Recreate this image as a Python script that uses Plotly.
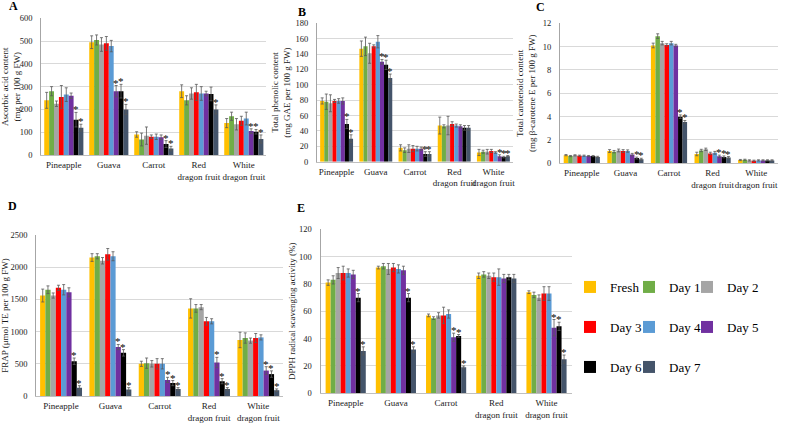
import plotly.graph_objects as go

categories = ["Pineapple", "Guava", "Carrot", "Red<br>dragon fruit", "White<br>dragon fruit"]
days = ["Fresh", "Day 1", "Day 2", "Day 3", "Day 4", "Day 5", "Day 6", "Day 7"]
colors = ["#FFC000", "#70AD47", "#A5A5A5", "#FF0000", "#5B9BD5", "#7030A0", "#000000", "#44546A"]

# Rows = days (Fresh..Day 7), columns = categories
ascorbic_mean = [
    [240, 495, 90, 280, 140],
    [280, 505, 68, 240, 170],
    [225, 485, 85, 270, 135],
    [255, 490, 80, 275, 150],
    [265, 478, 80, 270, 160],
    [260, 280, 78, 270, 105],
    [155, 280, 48, 268, 102],
    [120, 200, 28, 200, 70],
]
ascorbic_err = [
    [35, 28, 12, 28, 20],
    [20, 22, 28, 20, 18],
    [12, 30, 38, 25, 25],
    [50, 30, 8, 35, 20],
    [30, 25, 12, 30, 28],
    [12, 25, 10, 10, 10],
    [32, 30, 15, 30, 10],
    [15, 22, 10, 20, 18],
]
ascorbic_sig = [
    [0, 0, 0, 0, 0], [0, 0, 0, 0, 0], [0, 0, 0, 0, 0], [0, 0, 0, 0, 0],
    [0, 0, 0, 0, 0], [0, 1, 0, 0, 1], [1, 1, 1, 0, 1], [1, 1, 1, 1, 1],
]

phenolic_mean = [
    [79, 147, 18, 47, 12],
    [78, 150, 15, 46, 13],
    [76, 141, 17, 47, 13],
    [79, 150, 17, 49, 14],
    [79, 156, 17, 47, 12],
    [79, 130, 17, 46, 7],
    [49, 126, 10, 44, 6],
    [30, 109, 10, 44, 7],
]
phenolic_err = [
    [4, 10, 4, 11, 4],
    [10, 12, 3, 2, 2],
    [11, 13, 5, 12, 3],
    [2, 2, 4, 3, 2],
    [3, 8, 3, 2, 1],
    [4, 3, 2, 2, 2],
    [6, 6, 3, 3, 1],
    [5, 5, 3, 3, 1],
]
phenolic_sig = [
    [0, 0, 0, 0, 0], [0, 0, 0, 0, 0], [0, 0, 0, 0, 0], [0, 0, 0, 0, 0],
    [0, 0, 0, 0, 0], [0, 1, 0, 0, 1], [1, 1, 1, 0, 1], [1, 1, 1, 0, 1],
]

carotenoid_mean = [
    [0.70, 1.05, 10.10, 0.80, 0.28],
    [0.62, 1.00, 10.90, 1.10, 0.30],
    [0.68, 1.10, 10.30, 1.20, 0.25],
    [0.65, 1.05, 10.15, 0.85, 0.22],
    [0.65, 1.05, 10.30, 0.90, 0.25],
    [0.62, 0.75, 10.10, 0.60, 0.25],
    [0.62, 0.45, 4.00, 0.55, 0.25],
    [0.55, 0.35, 3.55, 0.50, 0.25],
]
carotenoid_err = [
    [0.05, 0.12, 0.20, 0.15, 0.05],
    [0.05, 0.10, 0.20, 0.10, 0.05],
    [0.05, 0.12, 0.15, 0.10, 0.05],
    [0.05, 0.12, 0.10, 0.10, 0.05],
    [0.05, 0.10, 0.15, 0.12, 0.05],
    [0.05, 0.10, 0.10, 0.10, 0.05],
    [0.05, 0.08, 0.15, 0.08, 0.05],
    [0.05, 0.08, 0.12, 0.08, 0.05],
]
carotenoid_sig = [
    [0, 0, 0, 0, 0], [0, 0, 0, 0, 0], [0, 0, 0, 0, 0], [0, 0, 0, 0, 0],
    [0, 0, 0, 0, 0], [0, 0, 0, 1, 0], [0, 1, 1, 1, 0], [0, 1, 1, 1, 0],
]

frap_mean = [
    [1560, 2150, 500, 1360, 870],
    [1650, 2170, 510, 1360, 900],
    [1560, 2100, 500, 1380, 860],
    [1680, 2200, 500, 1160, 900],
    [1650, 2170, 500, 1160, 910],
    [1610, 760, 250, 520, 395],
    [540, 670, 200, 230, 340],
    [130, 100, 110, 110, 90],
]
frap_err = [
    [100, 60, 40, 150, 120],
    [60, 40, 80, 60, 80],
    [40, 50, 50, 40, 40],
    [40, 90, 80, 60, 70],
    [80, 70, 80, 40, 40],
    [70, 40, 40, 80, 60],
    [50, 50, 40, 40, 50],
    [30, 30, 20, 20, 20],
]
frap_sig = [
    [0, 0, 0, 0, 0], [0, 0, 0, 0, 0], [0, 0, 0, 0, 0], [0, 0, 0, 0, 0],
    [0, 0, 0, 0, 0], [0, 1, 1, 1, 1], [1, 1, 1, 1, 1], [1, 1, 1, 1, 1],
]

dpph_mean = [
    [81, 92, 57, 86, 74],
    [83, 93, 55, 87, 72],
    [88, 91, 57, 86, 70],
    [88, 92, 57, 85, 73],
    [88, 91, 58, 85, 73],
    [87, 90, 41, 84, 48],
    [70, 70, 42, 85, 49],
    [31, 32, 19, 84, 25],
]
dpph_err = [
    [2, 1, 1, 2, 1],
    [3, 2, 1, 2, 2],
    [4, 4, 2, 2, 2],
    [5, 3, 6, 3, 5],
    [3, 3, 3, 6, 5],
    [3, 3, 3, 3, 6],
    [3, 3, 1, 2, 3],
    [3, 2, 1, 3, 3],
]
dpph_sig = [
    [0, 0, 0, 0, 0], [0, 0, 0, 0, 0], [0, 0, 0, 0, 0], [0, 0, 0, 0, 0],
    [0, 0, 0, 0, 0], [0, 0, 1, 0, 1], [1, 1, 1, 0, 1], [1, 1, 1, 0, 1],
]

W, H = 789, 423
FONT = "Liberation Serif"

panels = [
    dict(lab="A", mean=ascorbic_mean, err=ascorbic_err, sig=ascorbic_sig,
         title="Ascorbic acid content<br>(mg per 100 g FW)", rng=[0, 600], dtick=100,
         xpx=(41.3, 266.3), ypx=(18.3, 155.0), gw=0.87, lpos=(13, 6), so=3),
    dict(lab="B", mean=phenolic_mean, err=phenolic_err, sig=phenolic_sig,
         title="Total phenolic content<br>(mg GAE per 100 g FW)", rng=[0, 180], dtick=20,
         xpx=(317.0, 513.0), ypx=(23.3, 161.7), gw=0.84, lpos=(302, 12), so=3),
    dict(lab="C", mean=carotenoid_mean, err=carotenoid_err, sig=carotenoid_sig,
         title="Total carotenoid content<br>(mg β-carotene E per 100 g FW)", rng=[0, 12], dtick=2,
         xpx=(560.0, 778.0), ypx=(23.3, 163.3), gw=0.83, lpos=(540, 7), so=5),
    dict(lab="D", mean=frap_mean, err=frap_err, sig=frap_sig,
         title="FRAP (μmol TE per 100 g FW)", rng=[0, 2500], dtick=500,
         xpx=(36.4, 283.0), ypx=(235.0, 396.0), gw=0.85, lpos=(12, 206), so=5),
    dict(lab="E", mean=dpph_mean, err=dpph_err, sig=dpph_sig,
         title="DPPH radical scavenging activity (%)", rng=[0, 120], dtick=20,
         xpx=(320.6, 571.6), ypx=(229.3, 393.3), gw=0.80, lpos=(301, 208), so=1),
]

legend_names = ["legend" if j == 0 else "legend%d" % (j + 1) for j in range(len(days))]
legend_cols_x = [611, 670, 728]
legend_rows_y = [287, 327, 367]

fig = go.Figure()
annotations = []

for p_i, p in enumerate(panels):
    n = "" if p_i == 0 else str(p_i + 1)
    xa, ya = "x" + n, "y" + n
    bw = p["gw"] / len(days)
    for j, day in enumerate(days):
        off = -p["gw"] / 2 + j * bw
        fig.add_trace(go.Bar(
            x=categories, y=p["mean"][j], name=day,
            xaxis=xa, yaxis=ya,
            width=bw, offset=off,
            marker=dict(color=colors[j], line=dict(width=0)),
            error_y=dict(type="data", array=p["err"][j], color="#595959",
                         thickness=0.8, width=1.5),
            showlegend=(p_i == 0), legend=legend_names[j],
            legendgroup=day,
        ))
        for c_i in range(len(categories)):
            if p["sig"][j][c_i]:
                annotations.append(dict(
                    x=c_i + off + bw / 2, y=p["mean"][j][c_i] + p["err"][j][c_i],
                    xref=xa, yref=ya, text="*", showarrow=False,
                    yanchor="bottom", yshift=-5,
                    font=dict(family=FONT, size=11, color="#000000"),
                ))
    annotations.append(dict(
        x=p["lpos"][0] / W, y=1 - p["lpos"][1] / H, xref="paper", yref="paper",
        text="<b>" + p["lab"] + "</b>", showarrow=False, xanchor="center", yanchor="middle",
        font=dict(family=FONT, size=12, color="#000000"),
    ))
    x0, x1 = p["xpx"]
    top, bot = p["ypx"]
    fig.layout["xaxis" + n] = dict(
        domain=[x0 / W, x1 / W], anchor=ya, type="category",
        range=[-0.5, len(categories) - 0.5],
        showline=True, linecolor="#bfbfbf", linewidth=1, ticks="",
        tickangle=0, ticklabelstandoff=1,
        showgrid=False, tickfont=dict(family=FONT, size=9, color="#1a1a1a"),
        fixedrange=True,
    )
    fig.layout["yaxis" + n] = dict(
        domain=[1 - bot / H, 1 - top / H], anchor=xa,
        range=p["rng"], dtick=p["dtick"], tick0=0,
        showline=True, linecolor="#a6a6a6", linewidth=1.2,
        showgrid=True, gridcolor="#d9d9d9", gridwidth=0.7,
        zeroline=False, ticks="", ticklabelstandoff=6,
        tickfont=dict(family=FONT, size=8.5, color="#1a1a1a"),
        title=dict(text=p["title"], standoff=p["so"],
                   font=dict(family=FONT, size=9, color="#1a1a1a")),
        fixedrange=True,
    )

for j, ln in enumerate(legend_names):
    fig.layout[ln] = dict(
        orientation="v",
        x=(legend_cols_x[j % 3] - 41) / W, xanchor="left",
        y=1 - legend_rows_y[j // 3] / H, yanchor="middle",
        itemwidth=30,
        font=dict(family=FONT, size=13, color="#000000"),
        bgcolor="rgba(0,0,0,0)", borderwidth=0,
    )

fig.update_layout(
    width=W, height=H,
    margin=dict(l=0, r=0, t=0, b=0, autoexpand=False),
    paper_bgcolor="white", plot_bgcolor="white",
    barmode="overlay",
    annotations=annotations,
    font=dict(family=FONT, color="#000000"),
)

fig.write_html(
    "out.html",
    config={"displayModeBar": False},
    post_script="document.body.style.margin='0';document.body.style.overflow='hidden';",
)
